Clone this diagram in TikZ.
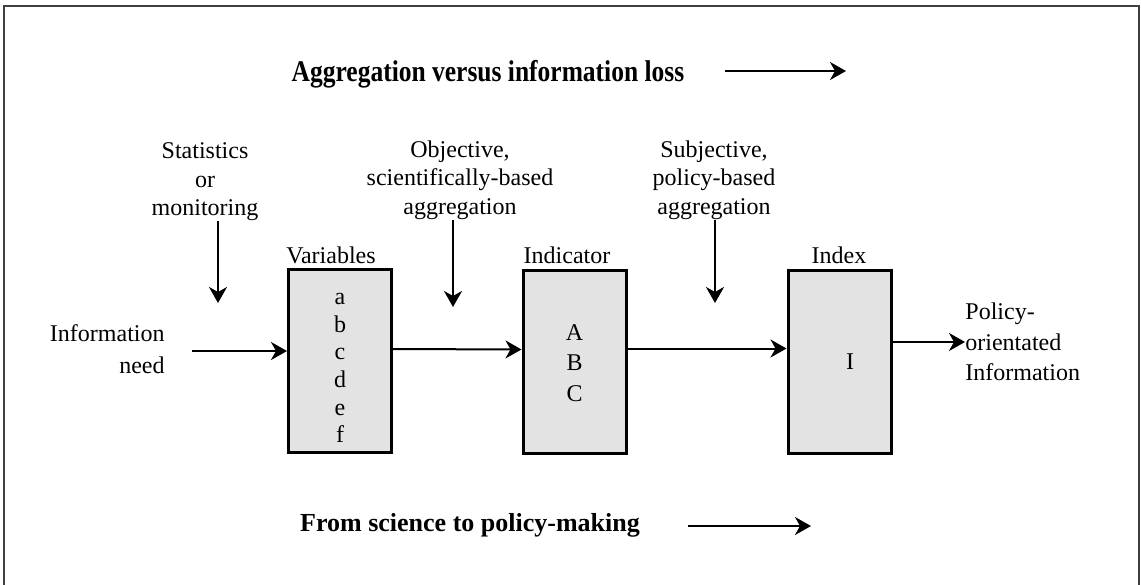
\documentclass[tikz,border=0pt]{standalone}
\usepackage{fontspec}
\setmainfont{Liberation Serif}
\newfontfamily\headfont{Liberation Serif}[FakeStretch=0.85]
\usetikzlibrary{arrows.meta,positioning}

\tikzset{
  frame/.style={draw=black!75, line width=1pt},
  box/.style={draw, line width=1.5pt, fill=black!11, minimum width=51.5pt,
    minimum height=91.5pt, inner sep=0pt},
  txt/.style={inner sep=0pt, align=center, font=\fontsize{12}{14.25}\selectfont},
  head/.style={inner sep=0pt, font=\headfont\bfseries\fontsize{15}{18}\selectfont},
  flow/.style={-{Stealth[length=8pt,width=9pt,inset=2.5pt]}, line width=1pt},
}

\begin{document}
\begin{tikzpicture}[x=0.5pt, y=-0.5pt]
  % 全体の範囲
  \useasboundingbox (0,0) rectangle (1141,584);
  % 外枠 (下辺は範囲外)
  \draw[frame] (4,600) -- (4,6) -- (1139,6) -- (1139,600);

  % 上下の見出しと矢印
  \node[head] (agg) at (488,74) {Aggregation versus information loss};
  \coordinate (aggstart) at (725,71);
  \coordinate (aggend)   at (846,71);
  \draw[flow] (aggstart) -- (aggend);

  \node[head, font=\bfseries\fontsize{13}{16}\selectfont] (sci) at (470,525) {From science to policy-making};
  \coordinate (scistart) at (688,526);
  \coordinate (sciend)   at (811,526);
  \draw[flow] (scistart) -- (sciend);

  % 三つの箱
  \node[box] (vars)  at (340,361) {};
  \node[box] (ind)   at (574.5,361.5) {};
  \node[box] (index) at (839.5,361.5) {};
  \node[txt, font=\fontsize{12}{13.8}\selectfont] (varsval) at (340,368) {a\\b\\c\\d\\e\\f};
  \node[txt, font=\fontsize{12}{15.25}\selectfont] (indval) at (574.5,363) {A\\B\\C};
  \node[txt] (indexval) at (850,362) {I};

  % 箱の見出し
  \node[txt] (varslab)  at (331,255) {Variables};
  \node[txt] (indlab)   at (567,255) {Indicator};
  \node[txt] (indexlab) at (839,255) {Index};

  % 上からの入力
  \node[txt] (stat) at (205,182) {Statistics\\or\\monitoring};
  \node[txt] (obj)  at (460,180) {Objective,\\scientifically-based\\aggregation};
  \node[txt] (subj) at (714,180) {Subjective,\\policy-based\\aggregation};
  \coordinate (statend) at (218,303);
  \coordinate (objend)  at (453,307);
  \coordinate (subjend) at (715,303);
  \draw[flow] (stat.south -| statend) -- (statend);
  \draw[flow] (obj.south -| objend) -- (objend);
  \draw[flow] (subj.south -| subjend) -- (subjend);

  % 左右のテキスト
  \node[txt, align=right, anchor=east, font=\fontsize{12}{16}\selectfont] (need) at (165,349) {Information\\need};
  \node[txt, align=left, anchor=west, font=\fontsize{12}{15.25}\selectfont] (out) at (965,342) {Policy-\\orientated\\Information};

  % 横の流れ
  \coordinate (needout) at (192,351);
  \draw[flow] (needout) -- (needout -| vars.west);
  \draw[flow] ([yshift=6pt]vars.east) -- ([yshift=6pt]ind.west);
  \draw[flow] ([yshift=6.5pt]ind.east) -- ([yshift=6.5pt]index.west);
  \draw[flow] (index.east |- out.west) -- (out.west);

\end{tikzpicture}
\end{document}
